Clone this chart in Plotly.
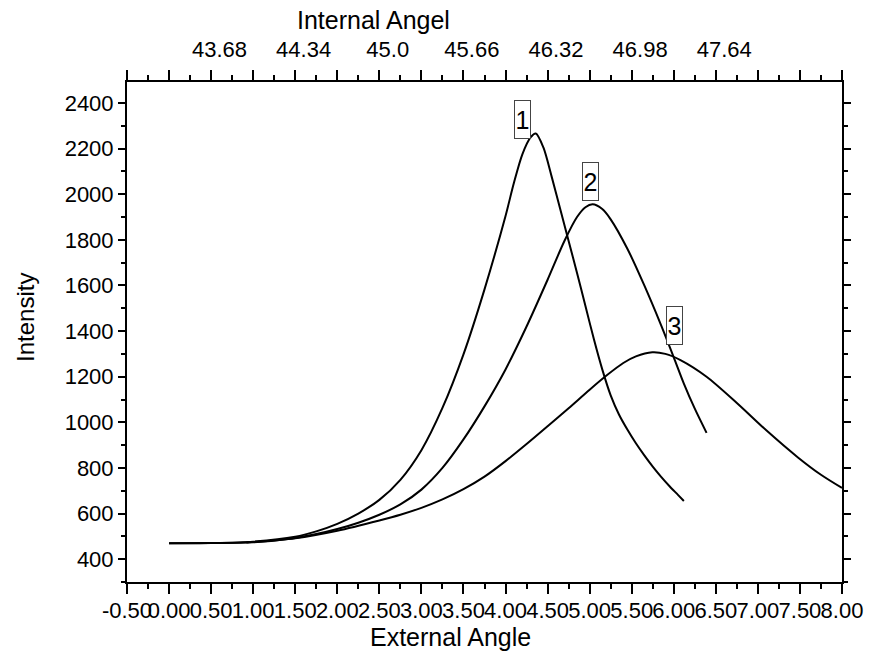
import plotly.graph_objects as go

# External angle / intensity readings for the three curves
ext1 = [0.0, 0.5, 1.0, 1.5, 1.75, 2.0, 2.25, 2.5, 2.75, 3.0, 3.25, 3.5, 3.75, 4.0, 4.1, 4.2, 4.3, 4.36,
        4.45, 4.55, 4.65, 4.75, 4.85, 4.95, 5.05, 5.15, 5.25, 5.35, 5.45, 5.55, 5.65, 5.75, 5.85,
        5.95, 6.05, 6.12]
int1 = [470, 471, 477, 498, 522, 555, 600, 660, 748, 878, 1063, 1298, 1583, 1905, 2050, 2175, 2250, 2266,
        2205, 2075, 1935, 1795, 1655, 1510, 1365, 1232, 1118, 1033, 967, 908, 855, 806, 761,
        720, 682, 655]

ext2 = [0.0, 0.5, 1.0, 1.5, 1.75, 2.0, 2.25, 2.5, 2.75, 3.0, 3.25, 3.5, 3.75, 4.0, 4.25, 4.5,
        4.7, 4.85, 4.95, 5.035, 5.15, 5.25, 5.45, 5.65, 5.85, 6.0, 6.12, 6.25, 6.39]
int2 = [470, 471, 474, 493, 510, 532, 560, 595, 640, 705, 800, 925, 1070, 1232, 1420, 1625,
        1795, 1900, 1943, 1956, 1935, 1890, 1760, 1600, 1425, 1285, 1170, 1060, 954]

ext3 = [0.92, 1.5, 2.0, 2.5, 2.75, 3.0, 3.25, 3.5, 3.75, 4.0, 4.25, 4.5, 4.75, 5.0, 5.2, 5.4, 5.55,
        5.745, 5.9, 6.08, 6.39, 6.75, 7.1, 7.48, 7.75, 8.0]
int3 = [473, 492, 525, 570, 595, 625, 662, 707, 762, 830, 905, 983, 1062, 1143, 1205, 1260, 1289,
        1307, 1300, 1273, 1200, 1085, 965, 845, 770, 712]

curve_labels = ["1", "2", "3"]
label_ext = [4.196, 5.015, 6.008]
label_int = [2329, 2056, 1426]

# Bottom axis tick labels
x_tick_labels = ["-0.50", "0.00", "0.50", "1.00", "1.50", "2.00", "2.50", "3.00", "3.50",
                 "4.00", "4.50", "5.00", "5.50", "6.00", "6.50", "7.00", "7.50", "8.00"]
x_tick_vals = [float(s) for s in x_tick_labels]

# Top axis: internal angle labels; internal = INT0 + (ext - EXT0) * SLOPE
internal_ticks = [43.68, 44.34, 45.0, 45.66, 46.32, 46.98, 47.64]
internal_text = ["43.68", "44.34", "45.0", "45.66", "46.32", "46.98", "47.64"]
INT0, EXT0, SLOPE = 43.68, 0.6, 0.66

x_range = [-0.5, 8.0]
y_range = [300, 2492]

font_family = "Liberation Sans, Arial, sans-serif"

fig = go.Figure()
for xs, ys in [(ext1, int1), (ext2, int2), (ext3, int3)]:
    fig.add_trace(go.Scatter(x=xs, y=ys, mode="lines",
                             line=dict(color="black", width=2, shape="spline", smoothing=0.8),
                             showlegend=False, hoverinfo="skip"))

# invisible trace to anchor the top axis
top_range = [INT0 + (x_range[0] - EXT0) * SLOPE, INT0 + (x_range[1] - EXT0) * SLOPE]
fig.add_trace(go.Scatter(x=top_range, y=[y_range[0], y_range[0]], xaxis="x2", mode="lines",
                         line=dict(width=0), showlegend=False, hoverinfo="skip", opacity=0))

for t, xe, yi in zip(curve_labels, label_ext, label_int):
    fig.add_annotation(x=xe, y=yi, text=t, showarrow=False, xref="x", yref="y",
                       font=dict(family=font_family, size=25, color="black"),
                       bordercolor="#444", borderwidth=1, borderpad=0, width=15, height=37,
                       bgcolor="white")

# axis titles (placed like the reference, not centred on the plot)
title_font = dict(family=font_family, size=25, color="black")
fig.add_annotation(text="Internal Angel", xref="paper", yref="paper", x=(375 - 127) / 719, y=1,
                   xanchor="center", yanchor="middle", yshift=62, showarrow=False, font=title_font)
fig.add_annotation(text="External Angle", xref="paper", yref="paper", x=(452 - 127) / 719, y=0,
                   xanchor="center", yanchor="middle", yshift=-55, showarrow=False, font=title_font)
fig.add_annotation(text="Intensity", xref="paper", yref="paper", x=0, xshift=-102, y=(582 - 318) / 500,
                   xanchor="center", yanchor="middle", textangle=-90, showarrow=False,
                   font=dict(family=font_family, size=24, color="black"))

tick_font = dict(family=font_family, size=22, color="black")
fig.update_layout(
    width=875, height=657,
    margin=dict(l=127, r=29, t=82, b=75, pad=0),
    paper_bgcolor="white", plot_bgcolor="white",
    font=dict(family=font_family, color="black"),
    xaxis=dict(range=x_range, tickvals=x_tick_vals, ticktext=x_tick_labels, tickangle=0, ticks="outside",
               ticklen=10, tickwidth=1.5, tickcolor="black", showline=True, linecolor="black",
               linewidth=2, mirror="ticks", showgrid=False, zeroline=False, tickfont=tick_font,
               ticklabelstandoff=-2,
               minor=dict(dtick=0.25, tick0=0, ticks="outside", ticklen=5, tickwidth=1.5, tickcolor="black")),
    xaxis2=dict(range=top_range, overlaying="x", side="top", tickvals=internal_ticks, tickangle=0,
                ticktext=internal_text, ticks="", showline=False, showgrid=False, zeroline=False,
                tickfont=tick_font, ticklabelstandoff=20),
    yaxis=dict(range=y_range, dtick=200, tick0=0, ticks="outside", ticklen=7, tickwidth=1.5,
               tickcolor="black", showline=True, linecolor="black", linewidth=2, mirror="ticks",
               showgrid=False, zeroline=False, tickfont=tick_font,
               minor=dict(dtick=100, tick0=0, ticks="outside", ticklen=4, tickwidth=1.5, tickcolor="black")),
)

fig.write_html("out.html")
